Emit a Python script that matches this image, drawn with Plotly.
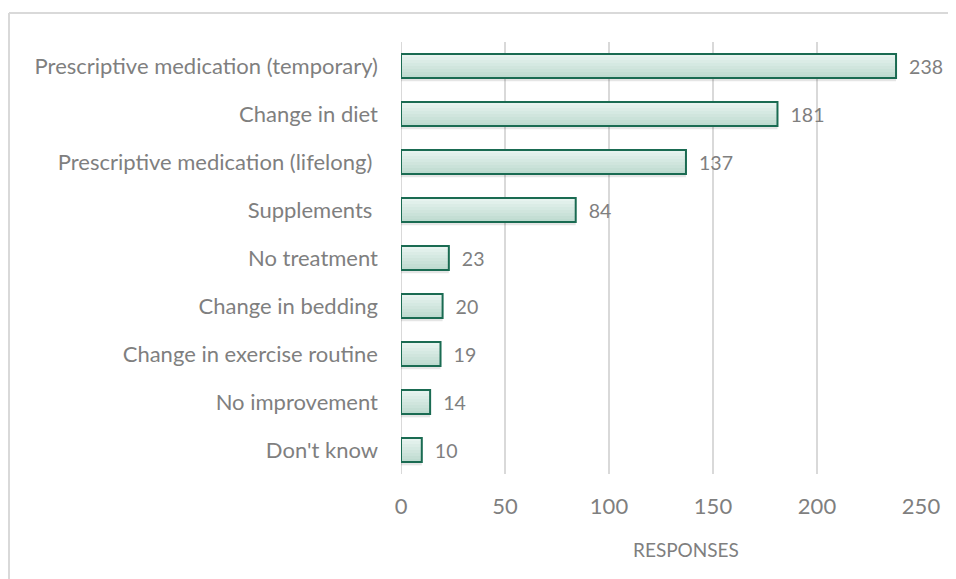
import plotly.graph_objects as go

categories = [
    "Prescriptive medication (temporary)",
    "Change in diet",
    "Prescriptive medication (lifelong) ",
    "Supplements ",
    "No treatment",
    "Change in bedding",
    "Change in exercise routine",
    "No improvement",
    "Don't know",
]
responses = [238, 181, 137, 84, 23, 20, 19, 14, 10]
x_ticks = [0, 50, 100, 150, 200, 250]

FONT = "Lato"
GRAY = "#7f7f7f"

# page body has an 8px margin, so the figure is placed at (8, 8)
W, H = 948, 571
L, R, T = 393, 35, 34
ph = 432
B = H - T - ph
pw = W - L - R

def px(p):
    return (p - L) / pw

def py(q):
    return (T + ph - q) / ph

NB = "\u00a0"
BW = 0.5  # bar thickness in category units

fig = go.Figure()

# soft drop shadow
fig.add_trace(go.Bar(
    y=categories, x=responses, orientation="h",
    width=BW, offset=-BW / 2 + 0.07,
    marker=dict(color="rgba(0,0,0,0.10)", line=dict(width=0)),
    hoverinfo="skip",
))

# vertical gradient fill built from thin bands
top = (231, 243, 239)
bot = (190, 219, 208)
n = 8
for i in range(n):
    t = i / (n - 1)
    c = tuple(round(top[k] + (bot[k] - top[k]) * t) for k in range(3))
    fig.add_trace(go.Bar(
        y=categories, x=responses, orientation="h",
        width=BW / n + 0.004, offset=-BW / 2 + i * BW / n,
        marker=dict(color="rgb(%d,%d,%d)" % c, line=dict(width=0)),
        hoverinfo="skip",
    ))

# outline + labels
fig.add_trace(go.Bar(
    y=categories, x=responses, orientation="h",
    width=BW, offset=-BW / 2,
    marker=dict(color="rgba(0,0,0,0)", line=dict(color="#1a6b52", width=2)),
    text=[NB * 2 + str(v) for v in responses],
    textposition="outside",
    textfont=dict(family=FONT, size=22, color=GRAY),
    cliponaxis=False,
    hoverinfo="x+y",
))

fig.update_layout(
    width=W, height=H,
    margin=dict(l=L, r=R, t=T, b=B),
    paper_bgcolor="white",
    plot_bgcolor="white",
    barmode="overlay",
    showlegend=False,
    font=dict(family=FONT, color=GRAY),
    xaxis=dict(
        range=[0, 250],
        tickvals=x_ticks,
        ticktext=[str(v) for v in x_ticks],
        showgrid=True, gridcolor="#d9d9d9", gridwidth=2,
        zeroline=False, showline=False,
        tickfont=dict(family=FONT, size=22, color=GRAY),
        ticklabelstandoff=17,
    ),
    yaxis=dict(
        autorange="reversed",
        showgrid=False, zeroline=False,
        showline=False,
        tickfont=dict(family=FONT, size=22, color=GRAY),
        ticklabelstandoff=22,
    ),
    annotations=[
        dict(text="RESPONSES", xref="paper", yref="paper",
             x=px(686 - 8), y=py(549 - 8), xanchor="center", yanchor="middle",
             showarrow=False, font=dict(family=FONT, size=19, color=GRAY)),
    ],
    shapes=[
        dict(type="line", xref="paper", yref="paper", x0=px(1), x1=px(W), y0=py(5), y1=py(5),
             line=dict(color="#d9d9d9", width=2)),
        dict(type="line", xref="paper", yref="paper", x0=px(1), x1=px(1), y0=py(5), y1=py(H),
             line=dict(color="#d9d9d9", width=2)),
        dict(type="line", xref="x", yref="paper", x0=0, x1=0, y0=0, y1=1,
             line=dict(color="#d9d9d9", width=2), layer="below"),
    ],
)

fig.write_html("out.html")
